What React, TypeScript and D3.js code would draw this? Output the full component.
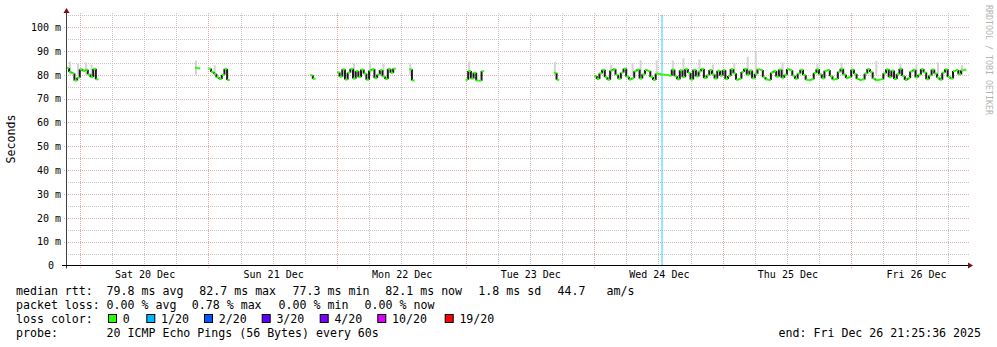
import React from "react";
import * as d3 from "d3";

// ---------- data ----------
const START_TIME = "2025-12-19 21:25:36";
const END_TIME = "2025-12-26 21:25:36";
const STEP_MINUTES = 30;

// median rtt in ms, one value per step, grouped by contiguous runs
const segStarts = [
  "2025-12-19 21:30:00",
  "2025-12-20 21:30:00",
  "2025-12-21 00:00:00",
  "2025-12-21 19:00:00",
  "2025-12-22 00:00:00",
  "2025-12-22 13:30:00",
  "2025-12-23 00:00:00",
  "2025-12-23 16:30:00",
  "2025-12-24 00:00:00",
];
const seg1 = [82.8, 81.2, 80.6, 77.6, 78.8, 82.3, 81.6, 82.1, 80.2, 79.0, 82.5, 78.1];
const seg2 = [82.9, 82.7];
const seg3 = [82.6, 81.2, 80.4, 78.9, 78.2, 80.0, 82.5, 77.8];
const seg4 = [79.8, 78.3];
const seg5 = [81.0, 79.2, 82.3, 78.0, 80.9, 82.5, 78.4, 81.6, 79.0, 82.2, 80.5, 77.9, 81.8, 82.4, 78.6, 80.1, 82.0, 79.3, 78.2, 82.5, 80.8, 82.6];
const seg6 = [82.3, 77.6];
const seg7 = [77.9, 81.6, 78.4, 80.9, 77.6, 77.5, 81.5];
const seg8 = [80.8, 77.9];
const seg9 = [
  79.5, 78.2, 80.6, 82.1, 79.0, 77.9, 81.8, 82.4, 80.0, 78.3, 80.9, 82.6,
  79.2, 78.0, 78.6, 81.5, 82.2, 78.4, 80.2, 82.0, 81.6, 79.1, 77.8, 80.5,
  80.3, 80.1, 80.0, 79.9, 79.6, 82.2, 79.4, 78.1, 81.9, 79.0, 82.4, 80.8,
  78.0, 82.1, 79.3, 81.4, 82.5, 78.6, 79.8, 82.0, 80.2, 78.4, 81.7, 79.6,
  82.0, 78.2, 79.5, 82.4, 80.6, 77.9, 78.3, 81.2, 82.5, 80.0, 81.8, 78.5,
  80.4, 82.3, 82.0, 79.0, 78.0, 77.8, 80.9, 81.6, 79.2, 82.2, 78.7, 80.0,
  82.4, 81.9, 79.6, 78.3, 80.5, 82.1, 79.9, 77.9, 77.7, 78.1, 80.8, 82.3,
  80.2, 78.5, 81.7, 82.0, 79.4, 78.0, 78.2, 81.3, 82.5, 80.1, 78.6, 79.0,
  82.2, 80.4, 78.3, 77.8, 78.0, 80.5, 82.4, 81.2, 78.4, 77.7, 77.9, 78.1,
  80.6, 82.3, 79.0, 81.8, 78.2, 80.3, 82.5, 79.5, 77.8, 78.6, 81.4, 82.1,
  78.9, 80.0, 82.4, 81.0, 78.1, 79.7, 82.2, 80.5, 78.8, 77.9, 80.9, 82.3,
  79.1, 78.4, 81.6, 82.0, 80.2, 81.9, 82.1,
];
const segValues = [seg1, seg2, seg3, seg4, seg5, seg6, seg7, seg8, seg9];

// smoke spikes: time, upper ping value (ms)
const smokeTimes = [
  "2025-12-19 22:00:00", "2025-12-19 23:30:00", "2025-12-20 01:00:00", "2025-12-20 02:00:00",
  "2025-12-20 21:30:00", "2025-12-21 01:00:00",
  "2025-12-22 03:00:00", "2025-12-22 06:00:00", "2025-12-22 08:30:00", "2025-12-22 13:30:00",
  "2025-12-23 00:30:00", "2025-12-23 16:30:00",
  "2025-12-24 03:00:00", "2025-12-24 07:00:00", "2025-12-24 08:30:00", "2025-12-24 11:30:00",
  "2025-12-24 14:30:00", "2025-12-24 16:30:00", "2025-12-24 19:30:00", "2025-12-24 22:00:00",
  "2025-12-25 02:00:00", "2025-12-25 04:30:00", "2025-12-25 06:00:00", "2025-12-25 11:00:00",
  "2025-12-25 17:30:00", "2025-12-25 22:00:00",
  "2025-12-26 04:30:00", "2025-12-26 09:00:00", "2025-12-26 12:00:00", "2025-12-26 16:00:00",
  "2025-12-26 20:30:00",
];
const smokeTops = [
  85.5, 84.6, 85.2, 84.2,
  86.0, 84.0,
  84.8, 85.3, 84.5, 84.6,
  85.6, 85.4,
  84.1, 85.0, 86.1, 86.0,
  86.0, 86.9, 86.5, 84.3,
  85.0, 87.6, 89.7, 85.2,
  84.5, 85.0,
  85.8, 84.6, 84.4, 85.2,
  84.0,
];

// loss events (shown as background bar)
const lossTimes = ["2025-12-24 12:30:00"];
const lossColorsIdx = [1];

const yTicks = [0, 10, 20, 30, 40, 50, 60, 70, 80, 90, 100];
const lossLabels = ["0", "1/20", "2/20", "3/20", "4/20", "10/20", "19/20"];
const lossColors = ["#26ff00", "#00b8ff", "#0059ff", "#5e00ff", "#7e00ff", "#dd00ff", "#ff0000"];

const rttLegend = ["79.8 ms avg", "82.7 ms max", "77.3 ms min", "82.1 ms now", "1.8 ms sd", "44.7", "am/s"];
const lossLegend = ["0.00 % avg", "0.78 % max", "0.00 % min", "0.00 % now"];

// ---------- layout ----------
const W = 997, H = 347;
const X0 = 66, X1 = 966, GRID_R = 969;
const Y0 = 265.5, YTOP = 13;
const MONO = "'DejaVu Sans Mono', monospace";

const parse = d3.timeParse("%Y-%m-%d %H:%M:%S");

export default function App() {
  const start = parse(START_TIME)!;
  const end = parse(END_TIME)!;
  const x = d3.scaleTime().domain([start, end]).range([X0, X1]);
  const y = d3.scaleLinear().domain([0, (Y0 - YTOP) / 2.384]).range([Y0, YTOP]);
  const stepMs = STEP_MINUTES * 60000;

  const minorY = d3.range(5, 106, 10);
  const majorY = d3.range(10, 101, 10);
  const days = d3.timeDay.range(d3.timeDay.ceil(start), end);
  const sixH = d3.timeHour.every(6)!.range(start, end).filter((d) => d.getHours() !== 0);
  const noons = d3.timeHour.every(12)!.range(start, end).filter((d) => d.getHours() === 12);
  const fmt = d3.timeFormat("%a %d Dec");

  const greens: JSX.Element[] = [];
  const blacks: JSX.Element[] = [];
  segStarts.forEach((s, si) => {
    const t0 = parse(s)!.getTime();
    const vals = segValues[si];
    vals.forEach((v, i) => {
      const xa = x(new Date(t0 + i * stepMs));
      const xb = x(new Date(t0 + (i + 1) * stepMs));
      greens.push(<line key={`g${si}-${i}`} x1={xa} x2={xb} y1={y(v)} y2={y(v)} stroke="#26ff00" strokeWidth={2} />);
      if (i > 0) {
        blacks.push(<line key={`b${si}-${i}`} x1={xa} x2={xa} y1={y(vals[i - 1])} y2={y(v)} stroke="#1c1c1c" strokeWidth={2} />);
      }
    });
  });

  return (
    <svg width={W} height={H} style={{ position: "fixed", left: 0, top: 0, background: "#fff" }} fontFamily={MONO}>
      <rect x={0} y={0} width={W} height={H} fill="#fff" />
      {/* minor grid */}
      {minorY.map((v) => (
        <line key={`my${v}`} x1={X0} x2={GRID_R} y1={Math.round(y(v)) + 0.5} y2={Math.round(y(v)) + 0.5} stroke="#c6c6c6" strokeDasharray="1,1" />
      ))}
      {sixH.map((d, i) => (
        <line key={`mx${i}`} x1={Math.round(x(d)) + 0.5} x2={Math.round(x(d)) + 0.5} y1={YTOP} y2={Y0 + 2} stroke="#c6c6c6" strokeDasharray="1,1" />
      ))}
      {/* major grid */}
      {majorY.map((v) => (
        <line key={`My${v}`} x1={X0 - 2} x2={GRID_R} y1={Math.round(y(v)) + 0.5} y2={Math.round(y(v)) + 0.5} stroke="#e4b0b0" strokeDasharray="1,1" />
      ))}
      {days.map((d, i) => (
        <line key={`Mx${i}`} x1={Math.round(x(d)) + 0.5} x2={Math.round(x(d)) + 0.5} y1={YTOP} y2={Y0 + 3} stroke="#e6a4a4" strokeDasharray="1,1" />
      ))}
      {/* loss background */}
      {lossTimes.map((s, i) => {
        const t = parse(s)!;
        return (
          <rect key={`l${i}`} x={x(t)} y={YTOP + 2} width={x(new Date(t.getTime() + stepMs)) - x(t) - 0.6} height={Y0 - YTOP - 2} fill={lossColors[lossColorsIdx[i]]} opacity={0.4} />
        );
      })}
      {/* smoke */}
      {smokeTimes.map((s, i) => {
        const t = parse(s)!;
        return <rect key={`s${i}`} x={x(t)} y={y(smokeTops[i])} width={2} height={y(80) - y(smokeTops[i])} fill="#d4d4d4" />;
      })}
      {blacks}
      {greens}
      {/* axes */}
      <line x1={66.5} x2={66.5} y1={Y0 + 3} y2={YTOP} stroke="#404040" />
      <path d={`M63.5,${YTOP} L66.5,${YTOP - 5} L69.5,${YTOP} Z`} fill="#7a1010" />
      <line x1={62} x2={969} y1={Y0} y2={Y0} stroke="#000" />
      <path d={`M968,${Y0 - 3} L973,${Y0} L968,${Y0 + 3} Z`} fill="#7a1010" />
      {/* y labels */}
      {yTicks.map((v) => (
        <text key={`yl${v}`} x={v === 0 ? 54 : 61} y={y(v) + 3.8} fontSize={10} textAnchor="end" fill="#000">
          {v === 0 ? "0" : `${v} m`}
        </text>
      ))}
      {/* x labels */}
      {noons.map((d, i) => (
        <text key={`xl${i}`} x={x(d) + 1} y={278} fontSize={10} textAnchor="middle" fill="#000">
          {fmt(d)}
        </text>
      ))}
      <text transform="translate(15,139) rotate(-90)" fontSize={11.6} textAnchor="middle" fill="#000">Seconds</text>
      <text transform="translate(985.5,5) rotate(90)" fontSize={8.3} fill="#b4b4b4">RRDTOOL / TOBI OETIKER</text>
      {/* legend */}
      <g fontSize={11.6} fill="#000" style={{ whiteSpace: "pre" }}>
        <text x={16} y={295}>median rtt:</text>
        {rttLegend.map((s, i) => (
          <text key={`r${i}`} x={[106.6, 199.3, 292.6, 385.3, 478.3, 557.6, 606.6][i]} y={295}>{s}</text>
        ))}
        <text x={16} y={309}>packet loss:</text>
        {lossLegend.map((s, i) => (
          <text key={`p${i}`} x={[106.6, 191.8, 278.6, 364.6][i]} y={309}>{s}</text>
        ))}
        <text x={16} y={323}>loss color:</text>
        {lossLabels.map((s, i) => {
          const bx = [108.5, 146.8, 204.5, 262.2, 320.2, 377.8, 445.2][i];
          return (
            <g key={`lc${i}`}>
              <rect x={bx} y={314.5} width={8} height={8} fill={lossColors[i]} stroke="#000" strokeWidth={1} />
              <text x={bx + 14.2} y={323}>{s}</text>
            </g>
          );
        })}
        <text x={16} y={337}>probe:</text>
        <text x={106.6} y={337}>20 ICMP Echo Pings (56 Bytes) every 60s</text>
        <text x={981} y={337} textAnchor="end">end: Fri Dec 26 21:25:36 2025</text>
      </g>
    </svg>
  );
}
